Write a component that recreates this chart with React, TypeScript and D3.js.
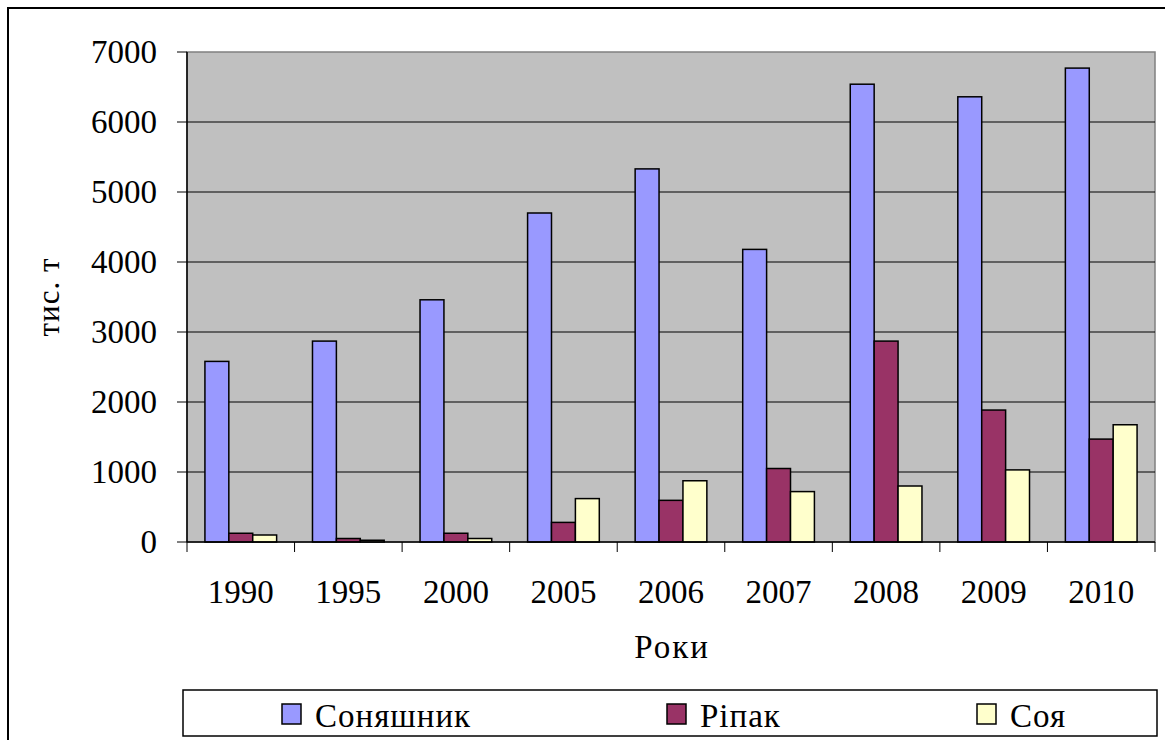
import { useMemo } from "react";
import * as d3 from "d3";

const years = ["1990", "1995", "2000", "2005", "2006", "2007", "2008", "2009", "2010"];
const series = ["Соняшник", "Ріпак", "Соя"];
const sunflower = [2580, 2870, 3460, 4700, 5330, 4180, 6540, 6360, 6770];
const rapeseed = [125, 50, 125, 280, 595, 1050, 2870, 1885, 1470];
const soy = [100, 25, 50, 620, 875, 720, 800, 1030, 1675];
const yTicks = [0, 1000, 2000, 3000, 4000, 5000, 6000, 7000];
const colors = ["#9999FF", "#993366", "#FFFFCC"];

const FONT = "Liberation Serif";

function Label(props: any) {
  const { children, ...rest } = props;
  return (
    <text fontFamily={FONT} style={{ fontFamily: FONT }} fill="#000" {...rest}>
      {children}
    </text>
  );
}

export default function App() {
  const width = 1165;
  const height = 740;
  const plot = { left: 187, right: 1155, top: 52, bottom: 542 };

  const x = useMemo(
    () => d3.scaleBand<string>().domain(years).range([plot.left, plot.right]).padding(0),
    [],
  );
  // Excel-style 150% gap between clusters
  const xInner = useMemo(
    () =>
      d3
        .scaleBand<string>()
        .domain(series)
        .range([0, x.bandwidth()])
        .paddingInner(0)
        .paddingOuter(0.75),
    [x],
  );
  const y = useMemo(
    () => d3.scaleLinear().domain([0, 7000]).range([plot.bottom, plot.top]),
    [],
  );

  const values = [sunflower, rapeseed, soy];
  const legendX = [282, 667, 977];

  return (
    <svg width={width} height={height} style={{ position: "absolute", left: 0, top: 0 }}>
      {/* outer chart frame */}
      <rect x={8} y={8} width={width + 20} height={height + 20} fill="#fff" stroke="#000" strokeWidth={2} />

      {/* plot area */}
      <rect
        x={plot.left}
        y={plot.top}
        width={plot.right - plot.left}
        height={plot.bottom - plot.top}
        fill="#C0C0C0"
        stroke="#808080"
        strokeWidth={1.5}
      />
      {yTicks.slice(1, -1).map((t) => (
        <line key={t} x1={plot.left} x2={plot.right} y1={y(t)} y2={y(t)} stroke="#000" strokeWidth={1} />
      ))}

      {/* bars */}
      {years.map((yr, i) => (
        <g key={yr} transform={`translate(${x(yr)},0)`}>
          {series.map((s, j) => {
            const v = values[j][i];
            return (
              <rect
                key={s}
                x={xInner(s)}
                y={y(v)}
                width={xInner.bandwidth()}
                height={y(0) - y(v)}
                fill={colors[j]}
                stroke="#000"
                strokeWidth={1.5}
              />
            );
          })}
        </g>
      ))}

      {/* y axis */}
      <line x1={plot.left} x2={plot.left} y1={plot.top} y2={plot.bottom} stroke="#000" strokeWidth={1.5} />
      {yTicks.map((t) => (
        <line key={t} x1={plot.left - 10} x2={plot.left} y1={y(t)} y2={y(t)} stroke="#000" strokeWidth={1} />
      ))}
      {yTicks.map((t) => (
        <Label key={t} x={157} y={y(t) + 11} textAnchor="end" fontSize={33}>
          {String(t)}
        </Label>
      ))}
      <Label
        transform={`translate(59,${(plot.top + plot.bottom) / 2}) rotate(-90)`}
        textAnchor="middle"
        fontSize={31}
        letterSpacing={1}
      >
        тис. т
      </Label>

      {/* x axis */}
      <line x1={plot.left} x2={plot.right} y1={plot.bottom} y2={plot.bottom} stroke="#000" strokeWidth={1.5} />
      {[...years.map((yr) => x(yr) as number), plot.right].map((px, i) => (
        <line key={i} x1={px} x2={px} y1={plot.bottom} y2={plot.bottom + 10} stroke="#000" strokeWidth={1} />
      ))}
      {years.map((yr) => (
        <Label key={yr} x={(x(yr) as number) + x.bandwidth() / 2} y={603} textAnchor="middle" fontSize={33}>
          {yr}
        </Label>
      ))}
      <Label x={672} y={658} textAnchor="middle" fontSize={33} letterSpacing={2}>
        Роки
      </Label>

      {/* legend */}
      <rect x={183} y={690} width={974} height={46} fill="#fff" stroke="#000" strokeWidth={1.5} />
      {series.map((s, j) => (
        <rect key={s} x={legendX[j]} y={704} width={19} height={20} fill={colors[j]} stroke="#000" strokeWidth={1.5} />
      ))}
      {series.map((s, j) => (
        <Label key={s} x={legendX[j] + 33} y={727} fontSize={33} letterSpacing={1}>
          {s}
        </Label>
      ))}
    </svg>
  );
}
